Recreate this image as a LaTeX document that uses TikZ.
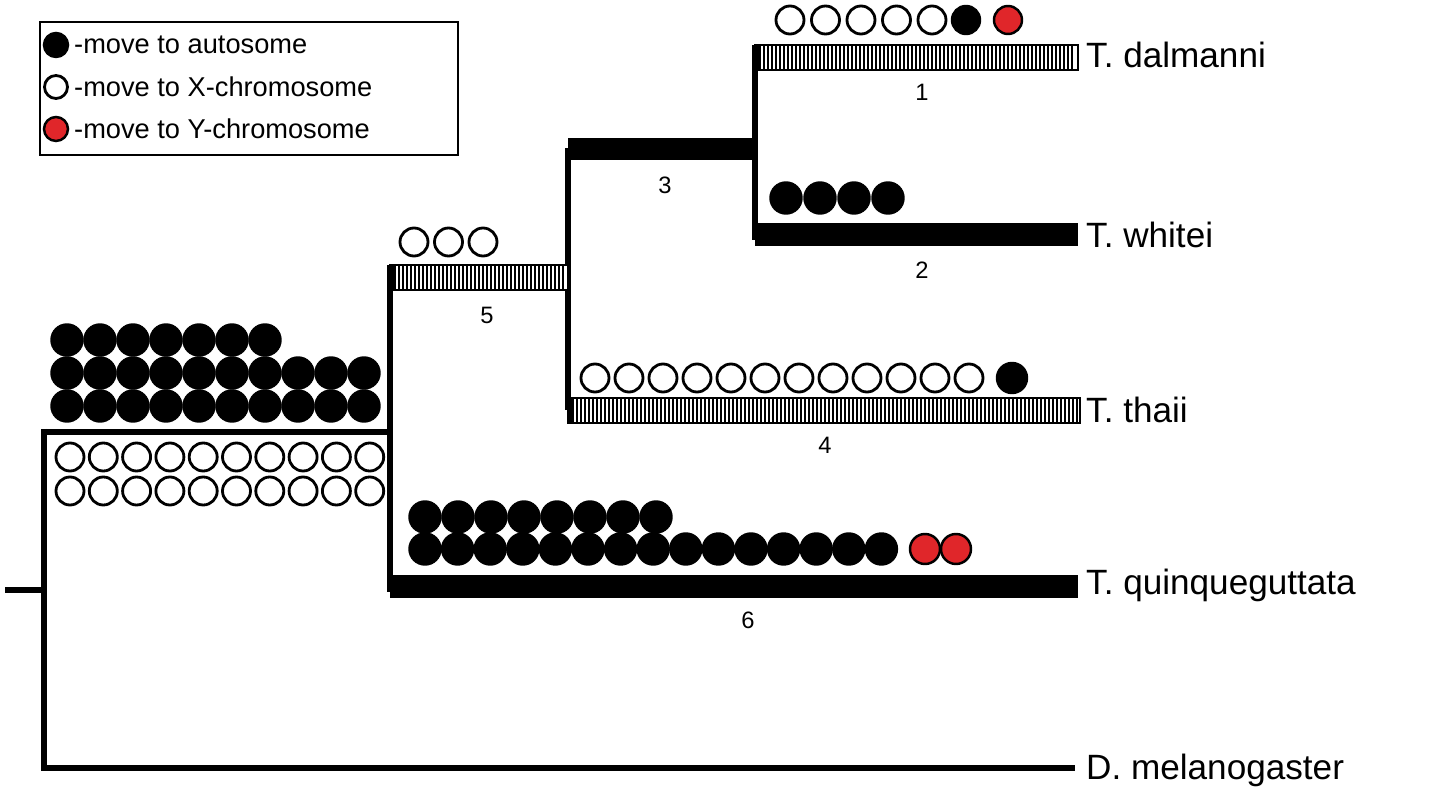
\documentclass[tikz,border=0pt]{standalone}
\usepackage{fontspec}
\setmainfont{Liberation Sans}
\definecolor{yred}{HTML}{E0262A}
\newcommand{\hatchbar}[3]{% x1,x2,ytop
  \fill[white] (#1,#3) rectangle (#2,#3+25);
  \pgfmathtruncatemacro\nn{(#2-#1)/4-1}
  \foreach \k in {0,...,\nn} {\fill[black] (#1+4*\k,#3) rectangle (#1+4*\k+2,#3+25);}
  \draw[line width=1.2pt] (#1,#3) rectangle (#2,#3+25);
  \fill (#1,#3) rectangle (#1+6,#3+25);}
\begin{document}
\begin{tikzpicture}[x=0.02cm,y=-0.02cm,
  br/.style={line width=3.4pt},
  sp/.style={anchor=west,font=\fontsize{20}{22}\selectfont},
  num/.style={font=\fontsize{13.5}{15}\selectfont},
  leg/.style={anchor=west,font=\fontsize{15.5}{17}\selectfont},
  cb/.style={fill=black,draw=black,line width=1.4pt},
  cw/.style={fill=white,draw=black,line width=1.6pt},
  cr/.style={fill=yred,draw=black,line width=1.4pt}]
\useasboundingbox (0,0) rectangle (1431,800);
% legend
\draw[line width=1.6pt] (40,22) rectangle (458,155);
\fill[cb] (56,45) circle (12);
\draw[cw] (56,87) circle (11.5);
\fill[cr] (56,129) circle (12);
\node[leg] (l1) at (68,45) {-move to autosome};
\node[leg] (l2) at (68,87) {-move to X-chromosome};
\node[leg] (l3) at (68,129) {-move to Y-chromosome};
% tree lines
\draw[br] (5,590) -- (47,590);
\draw[br] (44,429) -- (44,771);
\draw[br] (41,768) -- (1075,768);
\draw[br] (41,432) -- (393,432);
\draw[br] (390,265) -- (390,592);
\draw[br] (568,148) -- (568,410);
\draw[br] (755,45) -- (755,240);
% bars
\hatchbar{390}{568}{265}
\hatchbar{568}{1080}{398}
\hatchbar{755}{1078}{45}
\fill (390,575) rectangle (1078,598);
\fill (568,138) rectangle (755,160);
\fill (755,223) rectangle (1078,246);
% numbers
\node[num] (n1) at (922,92) {1};
\node[num] (n2) at (922,270) {2};
\node[num] (n3) at (665,185) {3};
\node[num] (n4) at (825,445) {4};
\node[num] (n5) at (487,315) {5};
\node[num] (n6) at (748,620) {6};
% species
\node[sp] (s1) at (1080,55) {T. dalmanni};
\node[sp] (s2) at (1080,235) {T. whitei};
\node[sp] (s3) at (1080,410) {T. thaii};
\node[sp] (s4) at (1080,585) {T. quinqueguttata};
\node[sp] (s5) at (1080,770) {D. melanogaster};
% circles branch 1
\foreach \i in {0,...,4} \draw[cw] (790+35.5*\i,20) circle (14);
\fill[cb] (966,20) circle (14);
\fill[cr] (1008,20) circle (14);
% branch 2
\foreach \i in {0,...,3} \fill[cb] (786+34*\i,198) circle (15.5);
% branch 5
\foreach \i in {0,...,2} \draw[cw] (414+34.5*\i,242) circle (14);
% branch 4
\foreach \i in {0,...,11} \draw[cw] (595+34*\i,378) circle (14);
\fill[cb] (1012,378) circle (15);
% branch 6
\foreach \i in {0,...,7} \fill[cb] (425+33*\i,517) circle (15.5);
\foreach \i in {0,...,14} \fill[cb] (425+32.6*\i,549) circle (15.5);
\fill[cr] (925,549) circle (15);
\fill[cr] (956,549) circle (15);
% root block
\foreach \i in {0,...,6} \fill[cb] (67+33*\i,340) circle (15.5);
\foreach \r in {373,406} \foreach \i in {0,...,9} \fill[cb] (67+33*\i,\r) circle (15.5);
\foreach \r in {457,491} \foreach \i in {0,...,9} \draw[cw] (70+33.3*\i,\r) circle (14);
\end{tikzpicture}
\end{document}
